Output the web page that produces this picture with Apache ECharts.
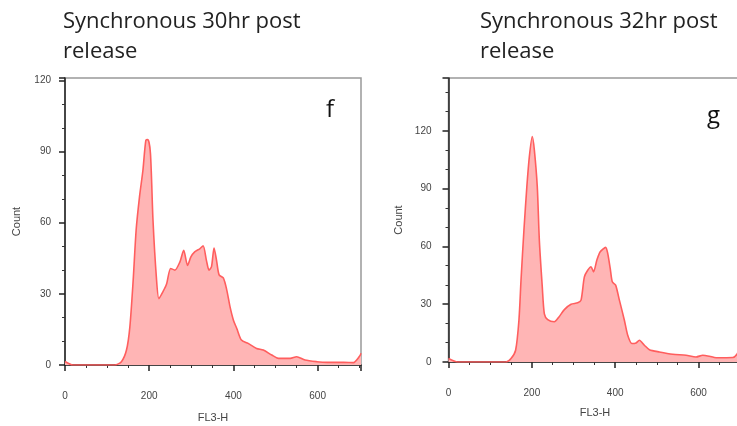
<!DOCTYPE html>
<html>
<head>
<meta charset="utf-8">
<script src="https://cdn.jsdelivr.net/npm/echarts@6/dist/echarts.min.js"></script>
<style>
html,body{margin:0;padding:0;background:#fff;}
#main{width:737px;height:426px;}
</style>
</head>
<body>
<div id="main"></div>
<script>
// Panel f: Synchronous 30hr post release
var fX =     [0, 19, 60, 118, 134, 146, 154, 162, 169, 177, 185, 192, 197, 203, 209, 217, 223, 233, 241, 251, 261, 273, 282, 291, 299, 308, 320, 328, 336, 342, 348, 354, 360, 366, 376, 384, 392, 400, 408, 419, 435, 455, 471, 491, 507, 535, 550, 570, 598, 622, 662, 685, 700, 703];
var fCount = [1.5, 0, 0, 0, 1.4, 6.3, 16, 36, 57, 71, 82, 94.7, 95, 89, 61, 37, 28, 31, 34, 40.7, 40, 43.5, 48.4, 42, 45.6, 47.7, 49, 50.3, 44, 40, 41.5, 49.3, 44, 38, 36.7, 31.8, 24.5, 18.9, 15.4, 10.5, 9.1, 7, 6.3, 4.2, 2.8, 2.8, 3.5, 2.1, 1.4, 1.1, 1.1, 1, 3.8, 5];
// Panel g: Synchronous 32hr post release
var gX =     [0, 22, 60, 138, 150, 161, 169, 174, 181, 188, 194, 201, 206, 213, 218, 225, 230, 238, 254, 265, 278, 294, 310, 318, 326, 334, 342, 348, 356, 364, 377, 382, 388, 393, 401, 410, 422, 430, 440, 450, 458, 470, 482, 506, 538, 570, 594, 610, 626, 642, 682, 692, 703];
var gCount = [1.8, 0, 0, 0, 1.8, 6.1, 21.7, 42.5, 68.5, 91, 106.6, 117, 110, 91, 63, 39, 25, 22, 20.9, 23.4, 27.2, 30, 30.7, 32.1, 44.2, 47.6, 49.4, 46.8, 52.9, 57.2, 59.5, 56.4, 48.6, 41.6, 39.9, 32.1, 21.7, 13.9, 9.6, 9.9, 11.3, 8.7, 6.4, 5.2, 4, 3.5, 2.6, 3.5, 3, 2.2, 2.3, 4, 9];

var titles = ['Synchronous 30hr post\nrelease', 'Synchronous 32hr post\nrelease'];
var panelLetters = ['f', 'g'];
var xName = 'FL3-H';
var yName = 'Count';

function pairs(xs, ys) { return xs.map(function (x, i) { return [x, ys[i]]; }); }

var labelFont = { color: '#444', fontSize: 10, fontFamily: 'Liberation Sans' };

function makeX(idx, gap, nameGap) {
  return {
    gridIndex: idx, type: 'value', min: 0, max: 703, interval: 200,
    name: xName, nameLocation: 'middle', nameGap: nameGap,
    nameTextStyle: { color: '#444', fontSize: 11, fontFamily: 'Liberation Sans' },
    axisLine: { show: true, onZero: false, lineStyle: { color: '#222', width: 1.5 } },
    axisTick: { show: true, inside: false, length: 6, lineStyle: { color: '#222', width: 1.5 } },
    minorTick: { show: true, splitNumber: 4, length: 3, lineStyle: { color: '#333', width: 1 } },
    axisLabel: Object.assign({ margin: gap, showMaxLabel: false }, labelFont),
    splitLine: { show: false }
  };
}
function makeY(idx, max, gap, nameGap) {
  return {
    gridIndex: idx, type: 'value', min: 0, max: max, interval: 30,
    name: yName, nameLocation: 'middle', nameGap: nameGap, nameRotate: 90,
    nameTextStyle: { color: '#444', fontSize: 11, fontFamily: 'Liberation Sans' },
    axisLine: { show: true, onZero: false, lineStyle: { color: '#222', width: 1.5 } },
    axisTick: { show: true, inside: false, length: 6, lineStyle: { color: '#222', width: 1.5 } },
    minorTick: { show: true, splitNumber: 3, length: 3, lineStyle: { color: '#333', width: 1 } },
    axisLabel: Object.assign({ margin: gap, showMaxLabel: false }, labelFont),
    splitLine: { show: false }
  };
}
function makeSeries(idx, data) {
  return {
    type: 'line', xAxisIndex: idx, yAxisIndex: idx, data: data,
    showSymbol: false, smooth: 0.25,
    lineStyle: { color: '#ff5e5e', width: 1.6 },
    areaStyle: { color: '#ffb5b5', opacity: 1 },
    silent: true, animation: false
  };
}

var titleStyle = { fontFamily: 'Open Sans', fontSize: 22, fontWeight: 'normal', color: '#222', lineHeight: 30 };

var chart = echarts.init(document.getElementById('main'), null, { renderer: 'canvas' });
chart.setOption({
  animation: false,
  backgroundColor: '#ffffff',
  title: [
    { text: titles[0], left: 58, top: 2, textStyle: titleStyle },
    { text: titles[1], left: 475, top: 2, textStyle: titleStyle }
  ],
  graphic: [
    { type: 'text', left: 326, top: 98, style: { text: panelLetters[0], font: '24px "Open Sans"', fill: '#111' } },
    { type: 'text', left: 707, top: 104, style: { text: panelLetters[1], font: '24px "Open Sans"', fill: '#111' } }
  ],
  grid: [
    { left: 65, top: 78, width: 296, height: 287, outerBoundsMode: 'none', containLabel: false, show: true, borderColor: '#999', borderWidth: 1.5, backgroundColor: 'transparent' },
    { left: 448.5, top: 78, width: 293, height: 284, outerBoundsMode: 'none', containLabel: false, show: true, borderColor: '#999', borderWidth: 1.5, backgroundColor: 'transparent' }
  ],
  xAxis: [makeX(0, 26, 47), makeX(1, 26, 45)],
  yAxis: [makeY(0, 121, 14, 43), makeY(1, 147.4, 17, 44)],
  series: [makeSeries(0, pairs(fX, fCount)), makeSeries(1, pairs(gX, gCount))]
});
</script>
</body>
</html>
